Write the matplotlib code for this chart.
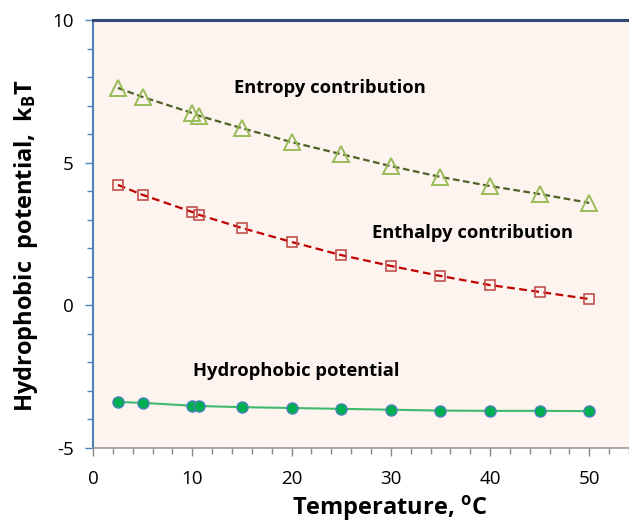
#!/usr/bin/env python3
"""Hydrophobic potential vs temperature, entropy/enthalpy split."""

import matplotlib
matplotlib.use("Agg")
import matplotlib.pyplot as plt
from matplotlib.ticker import MultipleLocator

plt.rcParams["font.family"] = ["Open Sans", "DejaVu Sans"]
plt.rcParams["axes.unicode_minus"] = False

# data
temp = [2.5, 5, 10, 10.7, 15, 20, 25, 30, 35, 40, 45, 50]
entropy = [7.62, 7.30, 6.74, 6.64, 6.21, 5.72, 5.30, 4.88, 4.50, 4.18, 3.90, 3.59]
enthalpy = [4.22, 3.87, 3.27, 3.17, 2.71, 2.22, 1.76, 1.38, 1.03, 0.71, 0.47, 0.22]
hydrophobic = [-3.39, -3.42, -3.52, -3.53, -3.57, -3.60, -3.63, -3.66, -3.69, -3.70, -3.70, -3.71]

BG = "#fdf4ef"
OLIVE = "#4f6228"
LGREEN = "#9bbb59"
RED = "#c0504d"
DRED = "#c00000"
GREEN = "#00b050"
LINEGREEN = "#3cba6e"
BLUE = "#4f81bd"

fig = plt.figure(figsize=(6.29, 5.27), dpi=100)
ax = fig.add_axes([0.148, 0.150, 0.852, 0.812])
ax.set_facecolor(BG)

ax.plot(temp, entropy, color=OLIVE, linestyle=(0, (3, 1.6)), linewidth=1.6, zorder=2)
ax.plot(temp, entropy, linestyle="none", marker="^", markersize=11,
        markerfacecolor="none", markeredgecolor=LGREEN, markeredgewidth=1.4, zorder=3)

ax.plot(temp, enthalpy, color=DRED, linestyle=(0, (3.5, 2)), linewidth=1.6, zorder=2)
ax.plot(temp, enthalpy, linestyle="none", marker="s", markersize=7.5,
        markerfacecolor="none", markeredgecolor=RED, markeredgewidth=1.2, zorder=3)

ax.plot(temp, hydrophobic, color=LINEGREEN, linewidth=1.5, zorder=2)
ax.plot(temp, hydrophobic, linestyle="none", marker="o", markersize=8,
        markerfacecolor=GREEN, markeredgecolor=BLUE, markeredgewidth=1.0, zorder=3)

# curve labels, placed in figure pixel coords (from top)
labels = [
    (330, 88, "Entropy contribution"),
    (473, 233, "Enthalpy contribution"),
    (296, 371, "Hydrophobic potential"),
]
for px, py, s in labels:
    fig.text(px / 629, 1 - py / 527, s, fontsize=13.2, fontweight="bold",
             ha="center", va="center")

ax.set_xlim(0, 54)
ax.set_ylim(-5, 10)
ax.xaxis.set_major_locator(MultipleLocator(10))
ax.xaxis.set_minor_locator(MultipleLocator(2))
ax.yaxis.set_major_locator(MultipleLocator(5))
ax.yaxis.set_minor_locator(MultipleLocator(1))

ax.tick_params(axis="x", which="major", length=6, width=1, color="#888888",
               labelsize=13.5, pad=10)
ax.tick_params(axis="x", which="minor", length=4, width=1, color="#888888")
ax.tick_params(axis="y", which="major", length=6, width=1, color=BLUE,
               labelsize=13.5, pad=8)
ax.tick_params(axis="y", which="minor", length=4, width=1, color=BLUE)

ax.spines["right"].set_visible(False)
ax.spines["top"].set_color("#2f4a75")
ax.spines["top"].set_linewidth(2.2)
ax.spines["left"].set_color(BLUE)
ax.spines["left"].set_linewidth(1.5)
ax.spines["bottom"].set_color("#999999")
ax.spines["bottom"].set_linewidth(1.2)

ax.set_xlabel("Temperature, $\\mathregular{^o}$C", fontsize=17, fontweight="bold")
ax.set_ylabel("Hydrophobic  potential,  k$\\mathregular{_B}$T", fontsize=17,
              fontweight="bold")
ax.xaxis.set_label_coords(0.554, -0.108)
ax.yaxis.set_label_coords(-0.10, 0.474)

fig.savefig("out.png", dpi=100)
